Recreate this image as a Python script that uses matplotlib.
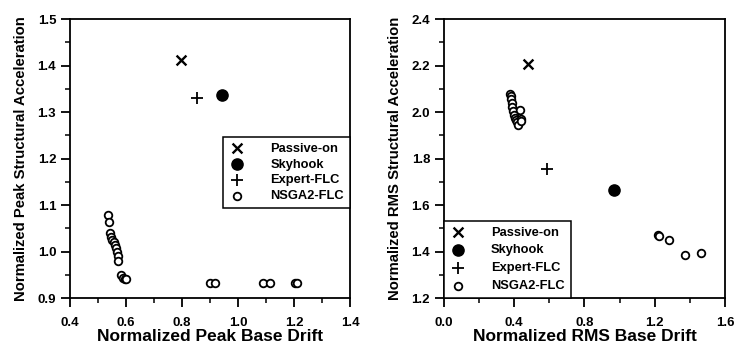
import matplotlib
matplotlib.use('Agg')
import matplotlib.pyplot as plt
from matplotlib.ticker import MultipleLocator, FormatStrFormatter

plt.rcParams['font.family'] = ['Liberation Sans', 'DejaVu Sans']
plt.rcParams['font.weight'] = 'bold'

# left panel: peak response
peak_passive = (0.797, 1.412)
peak_skyhook = (0.943, 1.336)
peak_expert = (0.854, 1.330)
peak_nsga_x = [0.537, 0.540, 0.543, 0.546, 0.551, 0.556, 0.561, 0.564, 0.567, 0.570,
               0.573, 0.582, 0.588, 0.596, 0.600, 0.900, 0.918, 1.090, 1.115, 1.202, 1.212]
peak_nsga_y = [1.078, 1.063, 1.039, 1.032, 1.025, 1.020, 1.014, 1.007, 1.000, 0.990,
               0.980, 0.949, 0.944, 0.941, 0.940, 0.933, 0.933, 0.933, 0.933, 0.932, 0.932]

# right panel: RMS response
rms_passive = (0.478, 2.206)
rms_skyhook = (0.968, 1.665)
rms_expert = (0.584, 1.753)
rms_nsga_x = [0.378, 0.382, 0.384, 0.387, 0.389, 0.393, 0.397, 0.402, 0.408, 0.415,
              0.421, 0.431, 0.436, 0.441, 1.220, 1.226, 1.283, 1.372, 1.463]
rms_nsga_y = [2.078, 2.068, 2.058, 2.040, 2.022, 2.003, 1.985, 1.975, 1.966, 1.955,
              1.944, 2.010, 1.970, 1.960, 1.470, 1.467, 1.448, 1.385, 1.394]

labels = ['Passive-on', 'Skyhook', 'Expert-FLC', 'NSGA2-FLC']


def draw(ax, passive, skyhook, expert, nx, ny):
    ax.scatter(*passive, marker='x', s=50, c='black', linewidths=1.7, label=labels[0], zorder=3)
    ax.scatter(*skyhook, marker='o', s=65, c='black', label=labels[1], zorder=3)
    ax.scatter(*expert, marker='+', s=70, c='black', linewidths=1.3, label=labels[2], zorder=3)
    ax.scatter(nx, ny, marker='o', s=30, facecolors='white', edgecolors='black',
               linewidths=1.3, label=labels[3], zorder=2)
    for sp in ax.spines.values():
        sp.set_linewidth(1.3)
    ax.tick_params(which='major', direction='out', length=6.5, width=1.3, labelsize=9.5,
                   top=False, right=False)
    ax.tick_params(which='minor', direction='out', length=3.6, width=1.1, top=False, right=False)
    ax.tick_params(axis='x', which='major', pad=7)


def bold_ticks(ax):
    for t in ax.get_xticklabels(which='both') + ax.get_yticklabels(which='both'):
        t.set_fontweight('bold')


def style_legend(leg):
    leg.get_frame().set_linewidth(1.1)
    for t in leg.get_texts():
        t.set_fontweight('bold')


fig = plt.figure(figsize=(7.34, 3.45), dpi=100)

ax1 = fig.add_axes([0.0954, 0.1362, 0.3815, 0.8087])
draw(ax1, peak_passive, peak_skyhook, peak_expert, peak_nsga_x, peak_nsga_y)
ax1.set_xlim(0.4, 1.4)
ax1.set_ylim(0.9, 1.5)
ax1.xaxis.set_major_locator(MultipleLocator(0.2))
ax1.xaxis.set_minor_locator(MultipleLocator(0.1))
ax1.yaxis.set_major_locator(MultipleLocator(0.1))
ax1.yaxis.set_minor_locator(MultipleLocator(0.05))
ax1.xaxis.set_major_formatter(FormatStrFormatter('%.1f'))
ax1.yaxis.set_major_formatter(FormatStrFormatter('%.1f'))
ax1.set_xlabel('Normalized Peak Base Drift', fontsize=12.5, fontweight='bold', labelpad=0)
ax1.set_ylabel('Normalized Peak Structural Acceleration', fontsize=10.7, fontweight='bold', labelpad=7)
leg1 = ax1.legend(loc='center right', bbox_to_anchor=(1.0, 0.45), borderaxespad=0,
                  fancybox=False, edgecolor='black', framealpha=1, fontsize=9.3,
                  handletextpad=2.0, handlelength=1.2, labelspacing=0.3, borderpad=0.45)
style_legend(leg1)

ax2 = fig.add_axes([0.6049, 0.1362, 0.3828, 0.8087])
draw(ax2, rms_passive, rms_skyhook, rms_expert, rms_nsga_x, rms_nsga_y)
ax2.set_xlim(0.0, 1.6)
ax2.set_ylim(1.2, 2.4)
ax2.xaxis.set_major_locator(MultipleLocator(0.4))
ax2.xaxis.set_minor_locator(MultipleLocator(0.2))
ax2.yaxis.set_major_locator(MultipleLocator(0.2))
ax2.yaxis.set_minor_locator(MultipleLocator(0.1))
ax2.xaxis.set_major_formatter(FormatStrFormatter('%.1f'))
ax2.yaxis.set_major_formatter(FormatStrFormatter('%.1f'))
ax2.set_xlabel('Normalized RMS Base Drift', fontsize=12.5, fontweight='bold', labelpad=0)
ax2.set_ylabel('Normalized RMS Structural Acceleration', fontsize=10.7, fontweight='bold', labelpad=7)
leg2 = ax2.legend(loc='lower left', borderaxespad=0,
                  fancybox=False, edgecolor='black', framealpha=1, fontsize=9.3,
                  handletextpad=2.0, handlelength=1.2, labelspacing=0.45, borderpad=0.45)
style_legend(leg2)

# tick labels are built at draw time, so make them bold after a first draw
fig.canvas.draw()
bold_ticks(ax1)
bold_ticks(ax2)

fig.savefig('out.png', dpi=100)
